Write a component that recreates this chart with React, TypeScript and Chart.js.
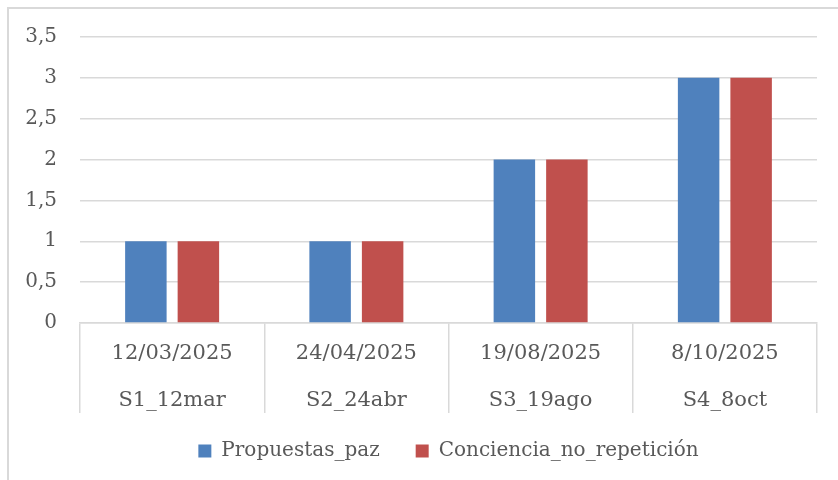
import React, { useEffect, useRef } from "react";
import { Chart, registerables } from "chart.js";

Chart.register(...registerables);

const dateLabels = ["12/03/2025", "24/04/2025", "19/08/2025", "8/10/2025"];
const sessionLabels = ["S1_12mar", "S2_24abr", "S3_19ago", "S4_8oct"];
const propuestasPaz = [1, 1, 2, 3];
const concienciaNoRepeticion = [1, 1, 2, 3];
const seriesNames = ["Propuestas_paz", "Conciencia_no_repetición"];
const yMin = 0;
const yMax = 3.5;
const yStep = 0.5;

const FONT = "'DejaVu Serif', serif";
const TEXT = "#595959";
const GRID = "#d9d9d9";

// let the two-line category labels draw past the (compact) axis box
const labelRoom = {
  id: "labelRoom",
  afterLayout(chart: any) {
    const x = chart.scales.x;
    if (x) x.bottom += 40;
  },
};

export default function App() {
  const ref = useRef<HTMLCanvasElement | null>(null);

  useEffect(() => {
    if (!ref.current) return;
    const chart = new Chart(ref.current, {
      type: "bar",
      data: {
        labels: dateLabels.map((d, i) => [d, sessionLabels[i]]),
        datasets: [
          {
            label: seriesNames[0],
            data: propuestasPaz,
            backgroundColor: "#4F81BD",
            categoryPercentage: 0.57,
            barPercentage: 0.79,
          },
          {
            label: seriesNames[1],
            data: concienciaNoRepeticion,
            backgroundColor: "#C0504D",
            categoryPercentage: 0.57,
            barPercentage: 0.79,
          },
        ],
      },
      options: {
        responsive: false,
        animation: false,
        devicePixelRatio: 1,
        layout: { padding: { left: 0, right: 32, top: 28, bottom: 18 } },
        plugins: {
          tooltip: { enabled: false },
          legend: {
            position: "bottom",
            fullSize: false,
            labels: {
              boxWidth: 13,
              boxHeight: 13,
              padding: 36,
              color: TEXT,
              font: { family: FONT, size: 20 },
            },
          },
        },
        scales: {
          x: {
            offset: true,
            grid: {
              offset: true,
              drawOnChartArea: false,
              drawTicks: true,
              tickLength: 90,
              color: GRID,
              lineWidth: 1.5,
            },
            border: { display: true, color: GRID, width: 1.5 },
            ticks: {
              padding: -83,
              color: TEXT,
              font: { family: FONT, size: 21, lineHeight: 2.24 },
              maxRotation: 0,
              autoSkip: false,
            },
            afterFit: (s: any) => {
              s.height = 82;
              s.paddingLeft = 0;
              s.paddingRight = 0;
            },
          },
          y: {
            min: yMin,
            max: yMax,
            grid: { color: GRID, lineWidth: 1.5, drawTicks: false },
            border: { display: false },
            ticks: {
              stepSize: yStep,
              padding: 23,
              color: TEXT,
              font: { family: FONT, size: 20 },
              callback: (v: any) => String(v).replace(".", ","),
            },
            afterFit: (s: any) => {
              s.width = 71;
              s.paddingTop = 0;
              s.paddingBottom = 0;
            },
          },
        },
      },
      plugins: [labelRoom],
    });
    return () => chart.destroy();
  }, []);

  return (
    <div
      style={{
        position: "fixed",
        left: 7,
        top: 7,
        border: "2px solid #d9d9d9",
        background: "#fff",
        width: 840,
        height: 480,
      }}
    >
      <canvas ref={ref} width={840} height={480} style={{ display: "block" }} />
    </div>
  );
}
